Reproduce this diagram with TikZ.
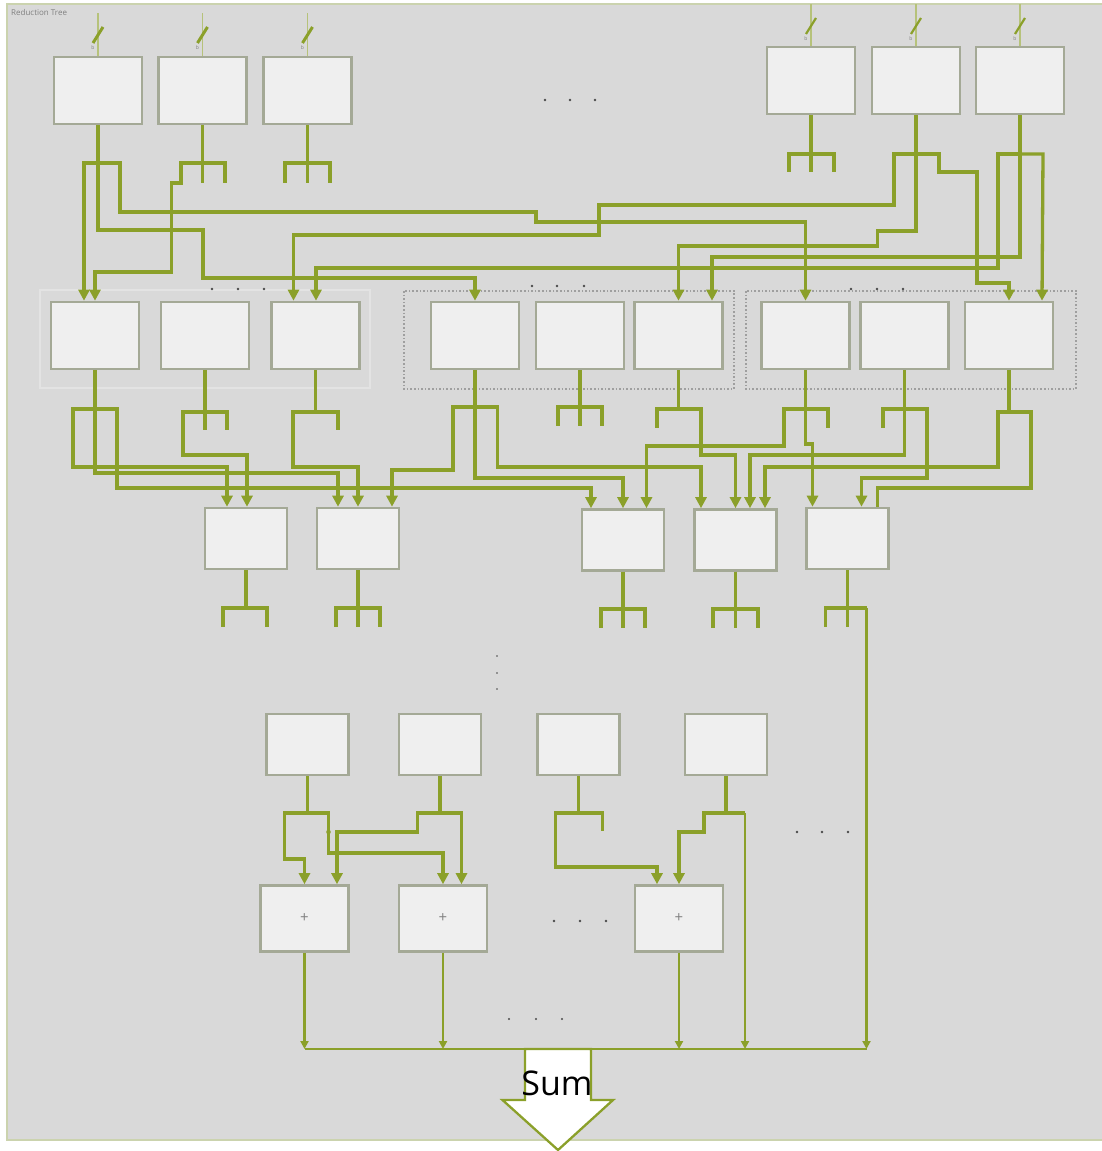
\documentclass[tikz,border=0pt]{standalone}
\usepackage{fontspec}
\setmainfont{Open Sans}
\usepackage{tikz}
\usetikzlibrary{arrows.meta, calc}

\definecolor{wiregreen}{HTML}{8BA02A}
\definecolor{feedgreen}{HTML}{B6C27A}
\definecolor{bggray}{HTML}{D9D9D9}
\definecolor{bgedge}{HTML}{CBD3AE}
\definecolor{boxfill}{HTML}{EFEFEF}
\definecolor{boxedge}{HTML}{A4A996}
\definecolor{grpedge}{HTML}{E3E3E3}
\definecolor{dotgray}{HTML}{4A4A4A}

\begin{document}
\begin{tikzpicture}[
    x=1pt, y=-1pt,
    box/.style={
        rectangle,
        draw=boxedge,
        fill=boxfill,
        line width=2.6pt,
        minimum width=88pt,
        minimum height=67pt,
        inner sep=0pt
    },
    smallbox/.style={box, minimum width=82pt, minimum height=61pt},
    addbox/.style={box, minimum height=66pt, font=\fontsize{15}{15}\selectfont, text=gray},
    wire/.style={draw=wiregreen, line width=3.3pt},
    feed/.style={wire, -{Triangle[length=11pt,width=11pt]}},
    sumfeed/.style={draw=wiregreen, line width=2.3pt, -{Triangle[length=8pt,width=8pt]}},
    inwire/.style={draw=feedgreen, line width=1.3pt},
    slash/.style={draw=wiregreen, line width=3pt},
    tag/.style={font=\fontsize{5}{5}\selectfont, text=gray, inner sep=0pt},
    grp/.style={draw=grpedge, line width=1.2pt},
    dotgrp/.style={draw=gray!75, dotted, line width=1.6pt}
]
    \useasboundingbox (0,0) rectangle (1101,1151);

    % =========================================================
    % BACKGROUND AND GROUPS
    % =========================================================
    \fill[white] (0,0) rectangle (1101,1151);
    \filldraw[fill=bggray, draw=bgedge, line width=1.3pt] (7,4) rectangle (1110,1140);
    \node[anchor=west, font=\fontsize{8}{8}\selectfont, text=gray, inner sep=0pt] (title) at (11,13) {Reduction Tree};

    \draw[grp] (40,290) rectangle (370,388);
    \draw[dotgrp] (404,291) rectangle (734,389);
    \draw[dotgrp] (746,291) rectangle (1076,389);

    % =========================================================
    % INPUT BLOCKS
    % =========================================================
    \node[box] (a1) at (98,90.5) {};
    \node[box] (a2) at (202.5,90.5) {};
    \node[box] (a3) at (307.5,90.5) {};
    \node[box] (a4) at (811,80.5) {};
    \node[box] (a5) at (916,80.5) {};
    \node[box] (a6) at (1020,80.5) {};

    \coordinate (in1) at (98,13);
    \coordinate (in2) at (202.5,13);
    \coordinate (in3) at (307.5,13);
    \coordinate (in4) at (811,4);
    \coordinate (in5) at (916,4);
    \coordinate (in6) at (1020,4);

    \draw[inwire] (in1) -- (a1.north);
    \draw[inwire] (in2) -- (a2.north);
    \draw[inwire] (in3) -- (a3.north);
    \draw[inwire] (in4) -- (a4.north);
    \draw[inwire] (in5) -- (a5.north);
    \draw[inwire] (in6) -- (a6.north);

    \draw[slash] ([shift={(-5,30)}]in1) -- ([shift={(5,14)}]in1);
    \draw[slash] ([shift={(-5,30)}]in2) -- ([shift={(5,14)}]in2);
    \draw[slash] ([shift={(-5,30)}]in3) -- ([shift={(5,14)}]in3);
    \draw[slash, line width=2.2pt] ([shift={(-5,30)}]in4) -- ([shift={(5,14)}]in4);
    \draw[slash, line width=2.2pt] ([shift={(-5,30)}]in5) -- ([shift={(5,14)}]in5);
    \draw[slash, line width=2.2pt] ([shift={(-5,30)}]in6) -- ([shift={(5,14)}]in6);

    \node[tag] (w1) at ([shift={(-5,35)}]in1) {b};
    \node[tag] (w2) at ([shift={(-5,35)}]in2) {b};
    \node[tag] (w3) at ([shift={(-5,35)}]in3) {b};
    \node[tag] (w4) at ([shift={(-5,35)}]in4) {b};
    \node[tag] (w5) at ([shift={(-5,35)}]in5) {b};
    \node[tag] (w6) at ([shift={(-5,35)}]in6) {b};

    % =========================================================
    % SECOND AND THIRD LEVEL BLOCKS
    % =========================================================
    \node[box] (b1) at (95,335.5) {};
    \node[box] (b2) at (205,335.5) {};
    \node[box] (b3) at (315.5,335.5) {};
    \node[box] (b4) at (475,335.5) {};
    \node[box] (b5) at (580,335.5) {};
    \node[box] (b6) at (678.5,335.5) {};
    \node[box] (b7) at (805.5,335.5) {};
    \node[box] (b8) at (904.5,335.5) {};
    \node[box] (b9) at (1009,335.5) {};

    \node[smallbox] (c1) at (246,538.5) {};
    \node[smallbox] (c2) at (358,538.5) {};
    \node[smallbox] (c3) at (623,540) {};
    \node[smallbox] (c4) at (735.5,540) {};
    \node[smallbox] (c5) at (847.5,538.5) {};

    % =========================================================
    % LAST LEVEL AND ADDERS
    % =========================================================
    \node[smallbox] (d1) at (307.5,744.5) {};
    \node[smallbox] (d2) at (440,744.5) {};
    \node[smallbox] (d3) at (578.5,744.5) {};
    \node[smallbox] (d4) at (726,744.5) {};

    \node[addbox] (e1) at (304.5,918.5) {+};
    \node[addbox] (e2) at (443,918.5) {+};
    \node[addbox] (e3) at (679,918.5) {+};

    % =========================================================
    % WIRES: INPUT BLOCKS TO SECOND LEVEL
    % =========================================================
    \draw[feed] (a1.south) |- (84,163) -- ([xshift=-11pt]b1.north);
    \draw[feed] (a1.south) -- (98,230) -| (203,278) -| (b4.north);
    \draw[feed] (a1.south) |- (120,163) -- (120,212) -| (536,222) -| (b7.north);

    \draw[feed] (a2.south) |- (181,163) |- (171.5,183) |- (95,272) -- (b1.north);
    \draw[wire] (a2.south) -- (202.5,183);
    \draw[wire] (a2.south) |- (225,163) -- (225,183);

    \draw[wire] (a3.south) -- (307.5,183);
    \draw[wire] (a3.south) |- (285,163) -- (285,183);
    \draw[wire] (a3.south) |- (330,163) -- (330,183);

    \draw[wire] (a4.south) -- (811,172);
    \draw[wire] (a4.south) |- (789,154) -- (789,172);
    \draw[wire] (a4.south) |- (834,154) -- (834,172);

    \draw[feed] (a5.south) |- (894,154) -- (894,205) -| (599,235) -| ([xshift=-22pt]b3.north);
    \draw[feed] (a5.south) -- (916,231) -| (877.5,246) -| (b6.north);
    \draw[feed] (a5.south) |- (939,154) |- (977,172) |- (1009,283) -- (b9.north);

    \draw[feed] (a6.south) |- (998,154) -- (998,268) -| ([xshift=0.5pt]b3.north);
    \draw[feed] (a6.south) -- (1020,257) -| ([xshift=33.5pt]b6.north);
    \draw[feed] (a6.south) |- (1043,154) -- ([xshift=33pt]b9.north);

    % =========================================================
    % WIRES: SECOND LEVEL TO THIRD LEVEL
    % =========================================================
    \draw[feed] (b1.south) |- (73,409) -- (73,467) -| ([xshift=-19pt]c1.north);
    \draw[feed] (b1.south) -- (95,473) -| ([xshift=-20pt]c2.north);
    \draw[feed] (b1.south) |- (117,409) -- (117,488) -| ([xshift=-32pt]c3.north);

    \draw[feed] (b2.south) |- (183,412) -- (183,455) -| ([xshift=1pt]c1.north);
    \draw[wire] (b2.south) -- (205,430);
    \draw[wire] (b2.south) |- (227,412) -- (227,430);

    \draw[feed] (b3.south) |- (293,412) -- (293,467) -| (c2.north);
    \draw[wire] (b3.south) |- (338,412) -- (338,430);

    \draw[feed] (b4.south) |- (453,407) -- (453,470) -| ([xshift=34pt]c2.north);
    \draw[feed] (b4.south) -- (475,478) -| (c3.north);
    \draw[feed] (b4.south) |- (497.5,407) -- (497.5,467) -| ([xshift=-34.5pt]c4.north);

    \draw[wire] (b5.south) -- (580,426);
    \draw[wire] (b5.south) |- (558,407) -- (558,426);
    \draw[wire] (b5.south) |- (602,407) -- (602,426);

    \draw[wire] (b6.south) |- (657,409) -- (657,428);
    \draw[feed] (b6.south) |- (701,409) -- (701,455) -| (c4.north);

    \draw[feed] (b7.south) |- (784,409) -- (784,446) -| ([xshift=23.5pt]c3.north);
    \draw[feed] (b7.south) -- (805.5,444) -| ([xshift=-35pt]c5.north);
    \draw[wire] (b7.south) |- (828,409) -- (828,428);

    \draw[wire] (b8.south) |- (883,409) -- (883,428);
    \draw[feed] (b8.south) -- (904.5,455) -| ([xshift=14.5pt]c4.north);
    \draw[feed] (b8.south) |- (927,409) -- (927,478) -| ([xshift=14pt]c5.north);

    \draw[feed] (b9.south) |- (998,412) -- (998,467) -| ([xshift=29.5pt]c4.north);
    \draw[wire] (b9.south) |- (1031,412) -- (1031,488) -| ([xshift=30pt]c5.north);

    % third level outputs
    \draw[wire] (c1.south) |- (223,608) -- (223,627);
    \draw[wire] (c1.south) |- (267,608) -- (267,627);
    \draw[wire] (c2.south) -- (358,627);
    \draw[wire] (c2.south) |- (336,608) -- (336,627);
    \draw[wire] (c2.south) |- (380,608) -- (380,627);
    \draw[wire] (c3.south) -- (623,628);
    \draw[wire] (c3.south) |- (601,609) -- (601,628);
    \draw[wire] (c3.south) |- (645,609) -- (645,628);
    \draw[wire] (c4.south) -- (735.5,628);
    \draw[wire] (c4.south) |- (713,609) -- (713,628);
    \draw[wire] (c4.south) |- (758,609) -- (758,628);
    \draw[wire] (c5.south) -- (847.5,627);
    \draw[wire] (c5.south) |- (825.5,608) -- (825.5,627);
    \coordinate (c5tap) at (866.5,608);
    \draw[wire] (c5.south) |- (c5tap);

    % =========================================================
    % WIRES: LAST LEVEL TO ADDERS AND SUM
    % =========================================================
    \draw[feed] (d1.south) |- (284.5,813) -- (284.5,859) -| (e1.north);
    \draw[feed] (d1.south) |- (328.5,813) -- (328.5,853) -| (e2.north);
    \draw[feed] (d2.south) |- (417.5,813) -- (417.5,832) -| ([xshift=32.5pt]e1.north);
    \draw[feed] (d2.south) |- (461.5,813) -- ([xshift=18.5pt]e2.north);
    \draw[wire] (d3.south) |- (602.5,813) -- (602.5,831);
    \draw[feed] (d3.south) |- (555.5,813) -- (555.5,867) -| ([xshift=-22pt]e3.north);
    \draw[feed] (d4.south) |- (704,813) -- (704,832) -| (e3.north);
    \coordinate (d4tap) at (745,813);
    \draw[wire] (d4.south) |- (d4tap);

    \coordinate (busL) at (304.5,1049);
    \coordinate (busR) at (866.5,1049);
    \draw[draw=wiregreen, line width=2.6pt] (busL) -- (busR);

    \draw[sumfeed] (e1.south) -- (e1.south |- busL);
    \draw[sumfeed] (e2.south) -- (e2.south |- busL);
    \draw[sumfeed] (e3.south) -- (e3.south |- busL);
    \draw[sumfeed] (d4tap) -- (d4tap |- busL);
    \draw[sumfeed] (c5tap) -- (busR);

    \filldraw[fill=white, draw=wiregreen, line width=2.3pt]
        (525,1049) -- (591,1049) -- (591,1100) -- (613,1100) -- (558,1150)
        -- (502.5,1100) -- (525,1100) -- cycle;
    \node[font=\fontsize{34}{34}\selectfont, inner sep=0pt] (sum) at (557,1083) {Sum};

    % crossing marks
    \fill[wiregreen] (171.5,212) circle (2.6pt) (171.5,230) circle (2.6pt)
        (293,278) circle (2.6pt) (316,278) circle (2.6pt) (599,222) circle (2.6pt)
        (806,246) circle (2.6pt) (806,257) circle (2.6pt) (806,268) circle (2.6pt)
        (679,268) circle (2.6pt) (712,268) circle (2.6pt) (977,257) circle (2.6pt)
        (998,257) circle (2.6pt) (977,268) circle (2.6pt);
    \fill[wiregreen] (227,473) circle (2.6pt) (247,473) circle (2.6pt)
        (227,488) circle (2.6pt) (247,488) circle (2.6pt) (338,488) circle (2.6pt)
        (358,488) circle (2.6pt) (392,488) circle (2.6pt) (701,446) circle (2.6pt)
        (646.5,467) circle (2.6pt) (812.5,455) circle (2.6pt) (812.5,467) circle (2.6pt)
        (927,467) circle (2.6pt);
    \fill[wiregreen] (337,853) circle (2.3pt) (328.5,832) circle (2.3pt);

    % ellipsis dots
    \fill[dotgray] (545,100) circle (1.4pt) (570,100) circle (1.4pt) (595,100) circle (1.4pt);
    \fill[dotgray] (212,289) circle (1.4pt) (238,289) circle (1.4pt) (264,289) circle (1.4pt);
    \fill[dotgray] (532,286) circle (1.4pt) (557,286) circle (1.4pt) (584,286) circle (1.4pt);
    \fill[dotgray] (851,289) circle (1.4pt) (877,289) circle (1.4pt) (903,289) circle (1.4pt);
    \fill[dotgray] (497,656) circle (0.9pt) (497,673) circle (0.9pt) (497,689) circle (0.9pt);
    \fill[dotgray] (797,832) circle (1.4pt) (822,832) circle (1.4pt) (848,832) circle (1.4pt);
    \fill[dotgray] (554,921) circle (1.4pt) (580,921) circle (1.4pt) (606,921) circle (1.4pt);
    \fill[dotgray] (509,1019) circle (1.1pt) (536,1019) circle (1.1pt) (562,1019) circle (1.1pt);

\end{tikzpicture}
\end{document}
